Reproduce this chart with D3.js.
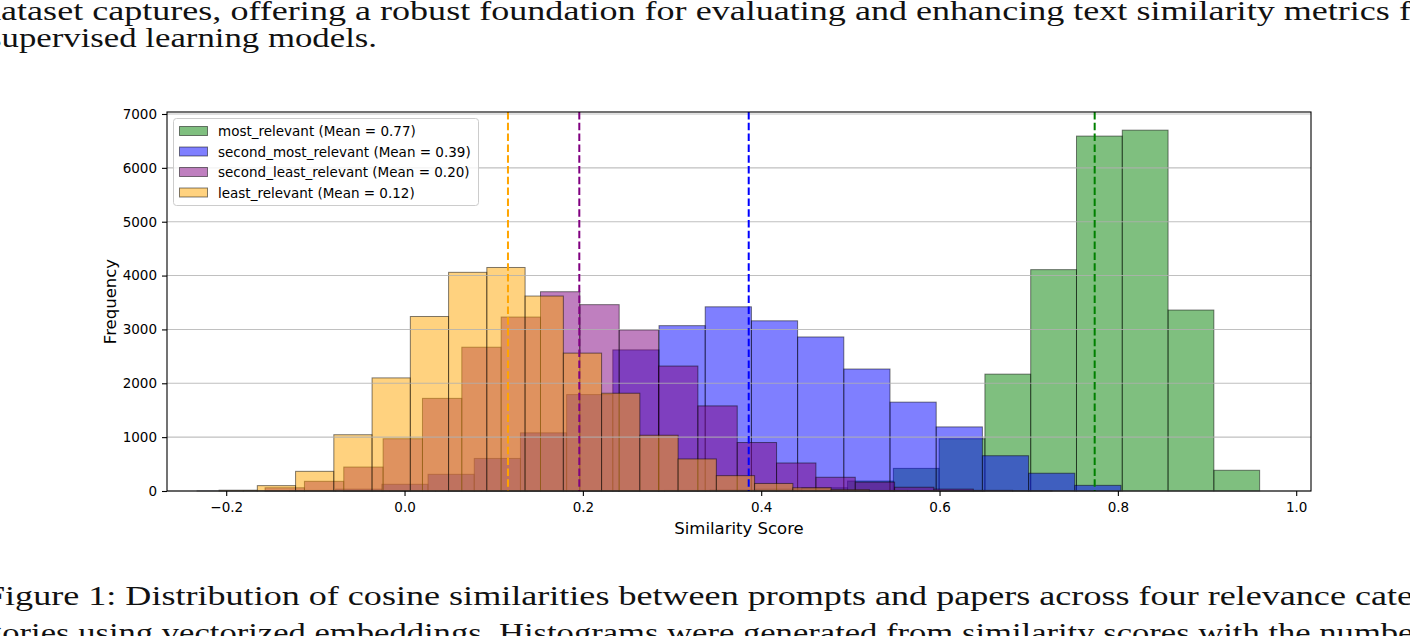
<!DOCTYPE html>
<html>
<head>
<meta charset="utf-8">
<script src="https://cdn.jsdelivr.net/npm/d3@7"></script>
<style>
  body { margin: 0; background: #fff; }
  svg { display: block; }
</style>
</head>
<body>
<svg id="chart" width="1410" height="636"></svg>
<script>
// histogram counts (20 equal bins per category)
var categories = ['most_relevant', 'second_most_relevant', 'second_least_relevant', 'least_relevant'];
var mostRelevantCounts = [1, 1, 2, 3, 4, 6, 8, 12, 20, 35, 60, 185, 420, 970, 2170, 4110, 6590, 6700, 3360, 385];
var secondMostCounts = [2, 5, 12, 35, 125, 310, 605, 1080, 1790, 2620, 3070, 3420, 3160, 2860, 2265, 1650, 1190, 655, 330, 105];
var secondLeastCounts = [60, 180, 445, 970, 1720, 2670, 3230, 3700, 3460, 2990, 2320, 1580, 900, 520, 255, 165, 70, 35, 12, 4];
var leastCounts = [15, 100, 365, 1045, 2100, 3240, 4060, 4150, 3620, 2560, 1815, 1035, 595, 285, 140, 60, 25, 10, 4, 2];
// min / max similarity of each category (histogram range)
var binRanges = [[-0.068, 0.959], [-0.2327, 0.8035], [-0.1564, 0.7261], [-0.208, 0.650]];
var means = [0.774, 0.386, 0.196, 0.116];
var colors = ['green', 'blue', 'purple', 'orange'];
var xTicks = [-0.2, 0.0, 0.2, 0.4, 0.6, 0.8, 1.0];
var yTicks = [0, 1000, 2000, 3000, 4000, 5000, 6000, 7000];

var allCounts = [mostRelevantCounts, secondMostCounts, secondLeastCounts, leastCounts];

var svg = d3.select('#chart');
var pLeft = 167, pRight = 1311, pTop = 112, pBottom = 491;

var x = d3.scaleLinear().domain([-0.2664, 1.0166]).range([pLeft, pRight]);
var y = d3.scaleLinear().domain([0, 7037]).range([pBottom, pTop]);

// surrounding paper text
var serif = '"Liberation Serif", "DejaVu Serif", serif';
function paperLine(str, x0, base, len) {
    svg.append('text')
        .attr('x', x0).attr('y', base)
        .attr('textLength', len).attr('lengthAdjust', 'spacingAndGlyphs')
        .style('font-family', serif).style('font-size', '28px').attr('fill', '#111')
        .text(str);
}
paperLine('dataset captures, offering a robust foundation for evaluating and enhancing text similarity metrics for', -17, 20, 1458);
paperLine('supervised learning models.', -12, 47, 389);
paperLine('Figure 1: Distribution of cosine similarities between prompts and papers across four relevance cate', -15, 605, 1428);
paperLine('gories using vectorized embeddings. Histograms were generated from similarity scores with the number', -15, 642, 1440);

// bars
var plot = svg.append('g');
allCounts.forEach(function(counts, i) {
    var r = binRanges[i];
    var w = (r[1] - r[0]) / counts.length;
    var bins = counts.map(function(c, k) { return {x0: r[0] + k * w, x1: r[0] + (k + 1) * w, n: c}; });
    plot.append('g').selectAll('rect')
        .data(bins)
        .enter().append('rect')
        .attr('x', function(d) { return x(d.x0); })
        .attr('width', function(d) { return x(d.x1) - x(d.x0); })
        .attr('y', function(d) { return y(d.n); })
        .attr('height', function(d) { return y(0) - y(d.n); })
        .attr('fill', colors[i]).attr('fill-opacity', 0.5)
        .attr('stroke', 'black').attr('stroke-opacity', 0.5).attr('stroke-width', 1);
});

// horizontal grid (drawn over the patches like matplotlib)
svg.append('g').selectAll('line')
    .data(yTicks)
    .enter().append('line')
    .attr('x1', pLeft).attr('x2', pRight)
    .attr('y1', function(d) { return y(d); }).attr('y2', function(d) { return y(d); })
    .attr('stroke', '#b0b0b0').attr('stroke-opacity', 0.8).attr('stroke-width', 1.1);

// mean lines
svg.append('g').selectAll('line')
    .data(means)
    .enter().append('line')
    .attr('x1', function(d) { return x(d); }).attr('x2', function(d) { return x(d); })
    .attr('y1', pTop).attr('y2', pBottom)
    .attr('stroke', function(d, i) { return colors[i]; })
    .attr('stroke-width', 2)
    .attr('stroke-dasharray', '7.5,3.3');

// axes
var fmt = function(d) { return d < 0 ? '\u2212' + Math.abs(d).toFixed(1) : d.toFixed(1); };
var xAxis = svg.append('g')
    .attr('transform', 'translate(0,' + pBottom + ')')
    .call(d3.axisBottom(x).tickValues(xTicks).tickSize(5).tickPadding(6).tickFormat(fmt));
var yAxis = svg.append('g')
    .attr('transform', 'translate(' + pLeft + ',0)')
    .call(d3.axisLeft(y).tickValues(yTicks).tickSize(5).tickPadding(5).tickFormat(d3.format('d')));
[xAxis, yAxis].forEach(function(a) {
    a.select('.domain').remove();
    a.selectAll('line').attr('stroke', '#000').attr('stroke-width', 1.1);
    a.selectAll('text').style('font-family', '"DejaVu Sans", sans-serif').style('font-size', '13.5px').attr('fill', '#000');
});

svg.append('rect')
    .attr('x', pLeft).attr('y', pTop).attr('width', pRight - pLeft).attr('height', pBottom - pTop)
    .attr('fill', 'none').attr('stroke', '#000').attr('stroke-width', 1.1);

svg.append('text')
    .attr('x', (pLeft + pRight) / 2).attr('y', 534)
    .attr('text-anchor', 'middle')
    .style('font-family', '"DejaVu Sans", sans-serif').style('font-size', '16.5px')
    .text('Similarity Score');
svg.append('text')
    .attr('transform', 'translate(116,' + ((pTop + pBottom) / 2) + ') rotate(-90)')
    .attr('text-anchor', 'middle')
    .style('font-family', '"DejaVu Sans", sans-serif').style('font-size', '16.5px')
    .text('Frequency');

// legend
var legend = svg.append('g');
legend.append('rect')
    .attr('x', 173.5).attr('y', 118.5).attr('width', 305).attr('height', 87).attr('rx', 3)
    .attr('fill', '#fff').attr('fill-opacity', 0.8)
    .attr('stroke', '#cccccc').attr('stroke-width', 1);
categories.forEach(function(name, i) {
    var cy = 131 + i * 20.5;
    legend.append('rect')
        .attr('x', 179.5).attr('y', cy - 4.5).attr('width', 28).attr('height', 9)
        .attr('fill', colors[i]).attr('fill-opacity', 0.5)
        .attr('stroke', 'black').attr('stroke-opacity', 0.5);
    legend.append('text')
        .attr('x', 218).attr('y', cy + 5)
        .style('font-family', '"DejaVu Sans", sans-serif').style('font-size', '13.5px')
        .text(name + ' (Mean = ' + means[i].toFixed(2) + ')');
});
</script>
</body>
</html>
